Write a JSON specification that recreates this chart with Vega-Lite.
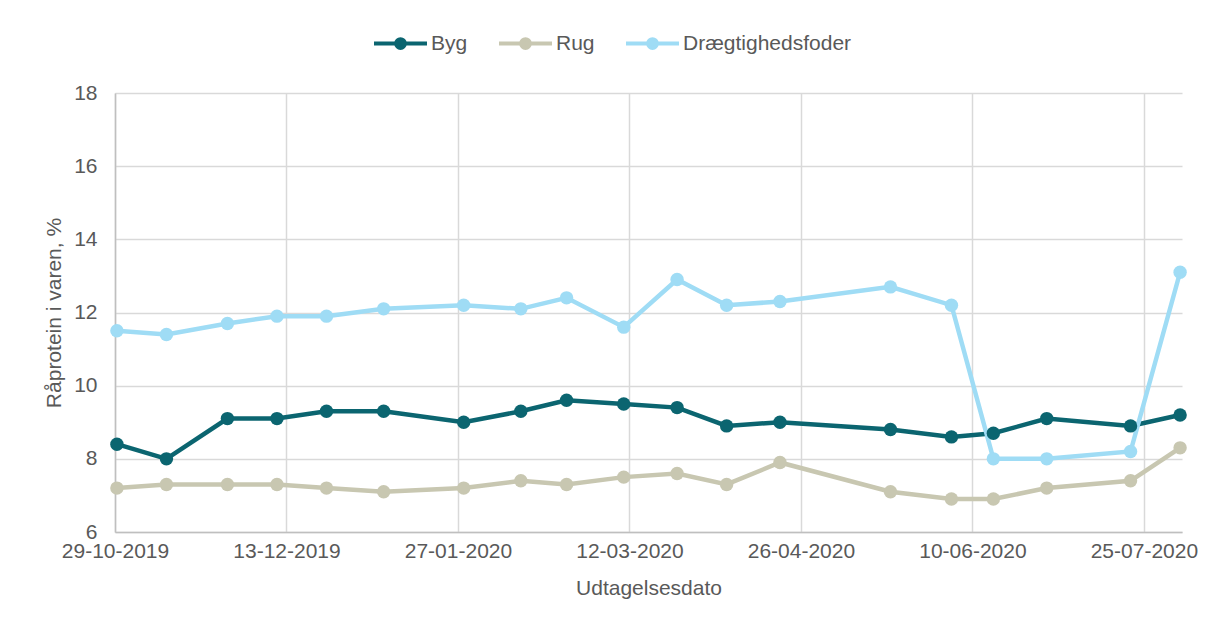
{
  "$schema": "https://vega.github.io/schema/vega-lite/v6.json",
  "width": 1067,
  "height": 439,
  "autosize": {"type": "none"},
  "padding": {"left": 115, "top": 93, "right": 27, "bottom": 100},
  "background": "#ffffff",
  "config": {"view": {"stroke": null}, "font": "Liberation Sans"},
  "data": {"values": [
    {"dato": "2019-10-29T12:00:00", "serie": "Byg", "vaerdi": 8.4},
    {"dato": "2019-11-11T12:00:00", "serie": "Byg", "vaerdi": 8.0},
    {"dato": "2019-11-27T12:00:00", "serie": "Byg", "vaerdi": 9.1},
    {"dato": "2019-12-10T12:00:00", "serie": "Byg", "vaerdi": 9.1},
    {"dato": "2019-12-23T12:00:00", "serie": "Byg", "vaerdi": 9.3},
    {"dato": "2020-01-07T12:00:00", "serie": "Byg", "vaerdi": 9.3},
    {"dato": "2020-01-28T12:00:00", "serie": "Byg", "vaerdi": 9.0},
    {"dato": "2020-02-12T12:00:00", "serie": "Byg", "vaerdi": 9.3},
    {"dato": "2020-02-24T12:00:00", "serie": "Byg", "vaerdi": 9.6},
    {"dato": "2020-03-10T12:00:00", "serie": "Byg", "vaerdi": 9.5},
    {"dato": "2020-03-24T12:00:00", "serie": "Byg", "vaerdi": 9.4},
    {"dato": "2020-04-06T12:00:00", "serie": "Byg", "vaerdi": 8.9},
    {"dato": "2020-04-20T12:00:00", "serie": "Byg", "vaerdi": 9.0},
    {"dato": "2020-05-19T12:00:00", "serie": "Byg", "vaerdi": 8.8},
    {"dato": "2020-06-04T12:00:00", "serie": "Byg", "vaerdi": 8.6},
    {"dato": "2020-06-15T12:00:00", "serie": "Byg", "vaerdi": 8.7},
    {"dato": "2020-06-29T12:00:00", "serie": "Byg", "vaerdi": 9.1},
    {"dato": "2020-07-21T12:00:00", "serie": "Byg", "vaerdi": 8.9},
    {"dato": "2020-08-03T12:00:00", "serie": "Byg", "vaerdi": 9.2},
    {"dato": "2019-10-29T12:00:00", "serie": "Rug", "vaerdi": 7.2},
    {"dato": "2019-11-11T12:00:00", "serie": "Rug", "vaerdi": 7.3},
    {"dato": "2019-11-27T12:00:00", "serie": "Rug", "vaerdi": 7.3},
    {"dato": "2019-12-10T12:00:00", "serie": "Rug", "vaerdi": 7.3},
    {"dato": "2019-12-23T12:00:00", "serie": "Rug", "vaerdi": 7.2},
    {"dato": "2020-01-07T12:00:00", "serie": "Rug", "vaerdi": 7.1},
    {"dato": "2020-01-28T12:00:00", "serie": "Rug", "vaerdi": 7.2},
    {"dato": "2020-02-12T12:00:00", "serie": "Rug", "vaerdi": 7.4},
    {"dato": "2020-02-24T12:00:00", "serie": "Rug", "vaerdi": 7.3},
    {"dato": "2020-03-10T12:00:00", "serie": "Rug", "vaerdi": 7.5},
    {"dato": "2020-03-24T12:00:00", "serie": "Rug", "vaerdi": 7.6},
    {"dato": "2020-04-06T12:00:00", "serie": "Rug", "vaerdi": 7.3},
    {"dato": "2020-04-20T12:00:00", "serie": "Rug", "vaerdi": 7.9},
    {"dato": "2020-05-19T12:00:00", "serie": "Rug", "vaerdi": 7.1},
    {"dato": "2020-06-04T12:00:00", "serie": "Rug", "vaerdi": 6.9},
    {"dato": "2020-06-15T12:00:00", "serie": "Rug", "vaerdi": 6.9},
    {"dato": "2020-06-29T12:00:00", "serie": "Rug", "vaerdi": 7.2},
    {"dato": "2020-07-21T12:00:00", "serie": "Rug", "vaerdi": 7.4},
    {"dato": "2020-08-03T12:00:00", "serie": "Rug", "vaerdi": 8.3},
    {"dato": "2019-10-29T12:00:00", "serie": "Drægtighedsfoder", "vaerdi": 11.5},
    {"dato": "2019-11-11T12:00:00", "serie": "Drægtighedsfoder", "vaerdi": 11.4},
    {"dato": "2019-11-27T12:00:00", "serie": "Drægtighedsfoder", "vaerdi": 11.7},
    {"dato": "2019-12-10T12:00:00", "serie": "Drægtighedsfoder", "vaerdi": 11.9},
    {"dato": "2019-12-23T12:00:00", "serie": "Drægtighedsfoder", "vaerdi": 11.9},
    {"dato": "2020-01-07T12:00:00", "serie": "Drægtighedsfoder", "vaerdi": 12.1},
    {"dato": "2020-01-28T12:00:00", "serie": "Drægtighedsfoder", "vaerdi": 12.2},
    {"dato": "2020-02-12T12:00:00", "serie": "Drægtighedsfoder", "vaerdi": 12.1},
    {"dato": "2020-02-24T12:00:00", "serie": "Drægtighedsfoder", "vaerdi": 12.4},
    {"dato": "2020-03-10T12:00:00", "serie": "Drægtighedsfoder", "vaerdi": 11.6},
    {"dato": "2020-03-24T12:00:00", "serie": "Drægtighedsfoder", "vaerdi": 12.9},
    {"dato": "2020-04-06T12:00:00", "serie": "Drægtighedsfoder", "vaerdi": 12.2},
    {"dato": "2020-04-20T12:00:00", "serie": "Drægtighedsfoder", "vaerdi": 12.3},
    {"dato": "2020-05-19T12:00:00", "serie": "Drægtighedsfoder", "vaerdi": 12.7},
    {"dato": "2020-06-04T12:00:00", "serie": "Drægtighedsfoder", "vaerdi": 12.2},
    {"dato": "2020-06-15T12:00:00", "serie": "Drægtighedsfoder", "vaerdi": 8.0},
    {"dato": "2020-06-29T12:00:00", "serie": "Drægtighedsfoder", "vaerdi": 8.0},
    {"dato": "2020-07-21T12:00:00", "serie": "Drægtighedsfoder", "vaerdi": 8.2},
    {"dato": "2020-08-03T12:00:00", "serie": "Drægtighedsfoder", "vaerdi": 13.1}
  ]},
  "mark": {"type": "line", "strokeWidth": 4.5, "point": {"filled": true, "size": 180, "opacity": 1}},
  "encoding": {
    "x": {
      "field": "dato", "type": "temporal",
      "scale": {"domain": [{"year": 2019, "month": 10, "date": 29}, {"year": 2020, "month": 8, "date": 4}]},
      "axis": {
        "values": [
          {"year": 2019, "month": 10, "date": 29},
          {"year": 2019, "month": 12, "date": 13},
          {"year": 2020, "month": 1, "date": 27},
          {"year": 2020, "month": 3, "date": 12},
          {"year": 2020, "month": 4, "date": 26},
          {"year": 2020, "month": 6, "date": 10},
          {"year": 2020, "month": 7, "date": 25}
        ],
        "format": "%d-%m-%Y",
        "title": "Udtagelsesdato",
        "grid": true, "gridColor": "#d9d9d9", "gridWidth": 1.5,
        "domainColor": "#bfbfbf", "domainWidth": 1.5,
        "ticks": false,
        "labelFontSize": 21, "labelColor": "#595959", "labelPadding": 8,
        "labelFlush": false, "labelOverlap": false,
        "titleFontSize": 21, "titleFontWeight": "normal", "titleColor": "#595959", "titlePadding": 16
      }
    },
    "y": {
      "field": "vaerdi", "type": "quantitative",
      "scale": {"domain": [6, 18], "nice": false, "zero": false},
      "axis": {
        "values": [6, 8, 10, 12, 14, 16, 18],
        "title": "Råprotein i varen, %",
        "grid": true, "gridColor": "#d9d9d9", "gridWidth": 1.5,
        "domainColor": "#bfbfbf", "domainWidth": 1.5,
        "ticks": false,
        "labelFontSize": 21, "labelColor": "#595959", "labelPadding": 18,
        "titleFontSize": 21, "titleFontWeight": "normal", "titleColor": "#595959", "titlePadding": 9
      }
    },
    "color": {
      "field": "serie", "type": "nominal",
      "scale": {"domain": ["Byg", "Rug", "Drægtighedsfoder"], "range": ["#0b6570", "#c8c7b1", "#9fdcf5"]},
      "legend": {
        "orient": "none", "legendX": 257, "legendY": -78, "direction": "horizontal",
        "title": null, "padding": 0,
        "symbolType": "M-1,0H1M0.164,0A0.164,0.164,0,1,1,-0.164,0A0.164,0.164,0,1,1,0.164,0Z",
        "symbolSize": 2809, "symbolStrokeWidth": 4,
        "labelFontSize": 21, "labelColor": "#595959", "labelOffset": 2, "labelLimit": 400,
        "columnPadding": 23,
        "encode": {"symbols": {"update": {"fill": {"scale": "color", "field": "value"}, "stroke": {"scale": "color", "field": "value"}, "opacity": {"value": 1}}}}
      }
    }
  }
}
